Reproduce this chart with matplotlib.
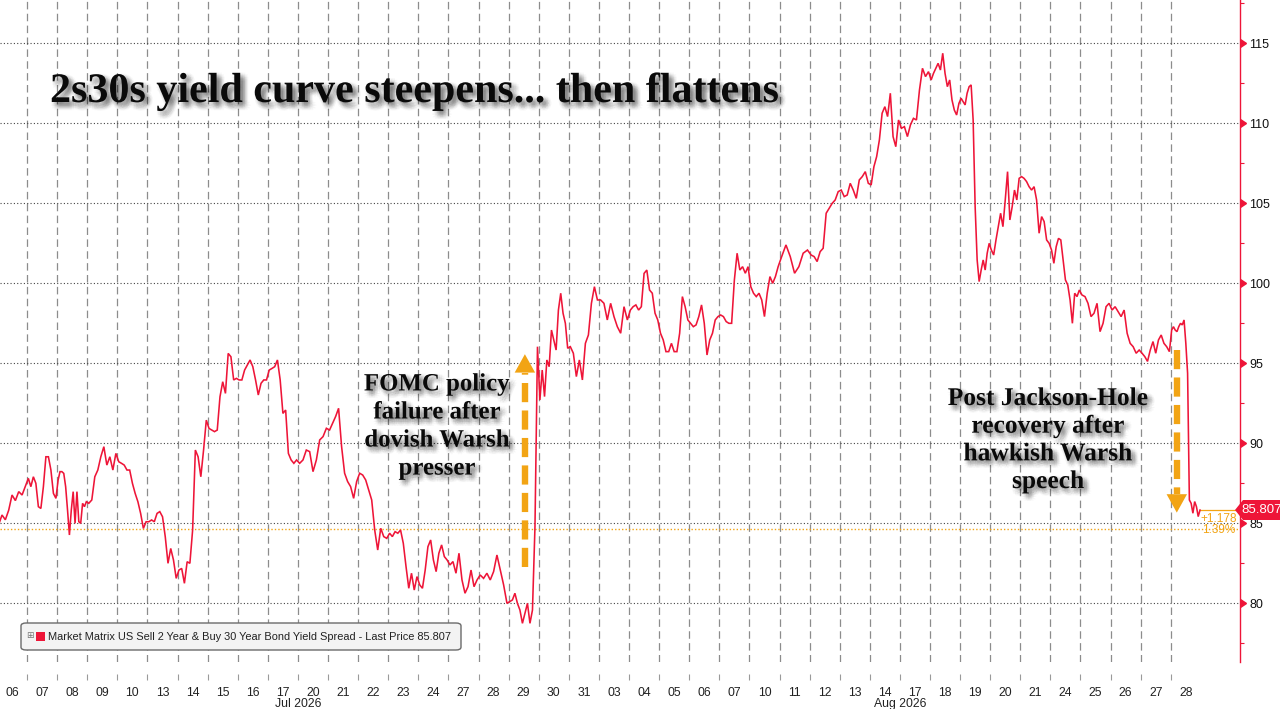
import numpy as np
import matplotlib
matplotlib.use('Agg')
import matplotlib.pyplot as plt
import matplotlib.patheffects as pe
from matplotlib.patches import Polygon, FancyBboxPatch, Rectangle

# ---------------- data ----------------
jul_days = ['06', '07', '08', '09', '10', '13', '14', '15', '16', '17',
            '20', '21', '22', '23', '24', '27', '28', '29', '30', '31']
aug_days = ['03', '04', '05', '06', '07', '10', '11', '12', '13', '14',
            '17', '18', '19', '20', '21', '24', '25', '26', '27', '28']
month_labels = ['Jul 2026', 'Aug 2026']

# intraday readings of the 2s30s spread (bp), one list per session
jul_sessions = [
    [84.9, 85.5, 85.2, 85.8, 86.75, 86.4, 86.96, 86.75, 87.3],
    [87.79, 87.27, 87.89, 87.48, 86.02, 85.91, 87.27, 89.14, 89.14, 88.31, 86.85, 86.54],
    [87.69, 88.21, 88.21, 88.1, 87.27, 85.81, 84.25, 85.81, 86.96, 84.98, 86.96, 85.08, 84.98, 86.23, 86.02, 86.33],
    [86.23, 86.44, 87.89, 88.31, 89.14, 89.77, 88.62, 89.14, 88.31, 89.35],
    [88.83, 88.73, 88.62, 88.31, 88.31, 87.48, 86.85, 86.33, 85.6, 84.66, 85.08],
    [85.08, 85.19, 85.08, 85.6, 85.71, 85.39, 84.14, 82.48, 83.41, 82.69, 81.54],
    [82.06, 82.16, 81.23, 82.58, 82.48, 84.56, 89.56, 89.14, 87.89, 89.56, 91.43],
    [90.91, 90.81, 90.71, 90.81, 92.89, 93.83, 93.1, 95.6, 95.39, 93.94, 94.04],
    [93.94, 93.94, 94.56, 94.87, 95.19, 94.77, 93.94, 93.0, 93.73, 93.94, 93.94],
    [94.56, 94.66, 94.77, 95.19, 93.94, 91.85, 92.06, 89.35, 88.94, 88.73, 88.94],
    [88.73, 88.94, 89.56, 89.46, 88.21, 88.94, 90.19, 90.4, 90.92],
    [90.81, 91.23, 91.65, 92.17, 89.77, 88.11, 87.59, 87.27, 86.54, 87.59],
    [88.11, 88.0, 87.69, 87.06, 86.44, 84.56, 83.31, 84.67, 84.15, 84.04],
    [84.36, 84.15, 84.46, 84.36, 84.56, 83.73, 82.27, 80.92, 81.86, 80.81, 81.65],
    [81.13, 80.92, 82.06, 83.52, 83.94, 82.69, 81.96, 83.11, 83.63, 82.9, 82.69],
    [82.38, 82.59, 81.86, 83.11, 81.44, 80.61, 81.02, 82.06, 81.02, 81.44],
    [81.75, 81.54, 81.86, 81.44, 81.96, 83.0, 82.06, 81.13, 79.98],
    [80.09, 80.19, 80.61, 79.98, 79.56, 78.73, 79.36, 79.98, 78.73, 79.56, 84.77, 96.02],
    [92.69, 94.56, 92.9, 95.19, 94.77, 97.06, 96.44, 95.81, 98.31, 99.36, 98.11, 97.48, 95.92],
    [96.02, 95.61, 94.15, 95.19, 93.94, 96.23, 96.75, 98.73, 99.77, 98.94],
]
aug_sessions = [
    [98.94, 98.73, 97.69, 98.73, 97.9, 97.27, 96.86, 98.52, 97.69],
    [98.31, 98.52, 98.63, 98.31, 98.52, 100.6, 100.81, 99.56, 99.36, 98.11, 97.69],
    [96.86, 96.44, 95.71, 95.71, 96.23, 95.71, 95.71, 96.86, 99.15, 98.52, 97.69],
    [97.48, 97.27, 97.38, 97.9, 98.63, 97.48, 95.5, 96.44, 96.86, 97.69, 97.9],
    [98.0, 97.9, 97.59, 97.48, 97.48, 100.19, 101.86, 100.81, 101.02, 100.61, 101.02],
    [99.77, 99.36, 99.15, 99.36, 98.94, 97.9, 99.36, 100.4, 99.98, 100.4, 101.02],
    [101.65, 102.38, 101.65, 100.61, 101.02, 101.86, 102.06],
    [101.75, 101.65, 101.34, 101.96, 102.17, 104.36, 104.67, 104.98, 105.19, 105.71],
    [105.81, 105.4, 105.5, 106.23, 105.81, 105.29, 106.44, 106.65, 106.96, 106.23],
    [106.13, 107.27, 107.9, 108.94, 110.61, 111.02, 110.4, 111.86, 109.15, 108.52, 110.19],
    [109.67, 109.77, 109.15, 109.88, 110.29, 110.19, 112.06, 113.42, 112.9, 113.21],
    [112.69, 113.1, 113.42, 113.73, 113.31, 114.36, 113.1, 112.27, 112.69, 111.44, 110.81, 110.5, 111.23],
    [111.54, 111.34, 111.13, 111.86, 112.27, 112.38, 110.19, 104.77, 101.44, 100.09, 100.81, 101.44, 100.81, 101.86, 102.48],
    [102.06, 101.75, 102.69, 103.52, 104.36, 103.52, 105.19, 106.96, 103.94, 104.77, 105.81, 105.19, 106.54],
    [106.65, 106.54, 106.34, 106.02, 105.81, 106.02, 105.19, 103.11, 104.15, 103.84, 102.69, 102.48],
    [102.06, 101.23, 102.27, 102.79, 102.69, 101.44, 100.19, 99.88, 98.94, 97.48, 99.36, 99.15, 99.56],
    [99.25, 99.15, 98.73, 97.9, 98.11, 98.73, 96.96, 97.48, 98.52, 98.73],
    [98.31, 98.52, 98.21, 97.9, 98.31, 96.86, 96.23, 96.02, 95.61, 95.81],
    [95.61, 95.4, 95.1, 95.81, 96.34, 95.61, 96.44, 96.75, 96.23, 96.02, 95.71],
    [97.06, 97.27, 97.06, 96.96, 97.27, 97.48, 97.38, 97.69, 96.23, 94.36, 86.44, 86.23,
     85.61, 86.34, 86.02, 85.4, 85.807],
]

last_price = 85.807
reference_level = 84.629
change_text = '+1.178'
pct_text = '1.39%'
y_ticks = [80, 85, 90, 95, 100, 105, 110, 115]
y_minor = [77.5, 82.5, 87.5, 92.5, 97.5, 102.5, 107.5, 112.5, 117.5]

title_text = '2s30s yield curve steepens... then flattens'
legend_text = 'Market Matrix US Sell 2 Year & Buy 30 Year Bond Yield Spread - Last Price 85.807'
note_fomc = 'FOMC policy\nfailure after\ndovish Warsh\npresser'
note_jh = 'Post Jackson-Hole\nrecovery after\nhawkish Warsh\nspeech'

# annotation arrows (day position, start value, tip value)
fomc_arrow = (17.04, 82.25, 95.55)
jh_arrow = (38.70, 95.81, 85.65)

# ---------------- style ----------------
RED = '#ee1538'
ORANGE = '#f2a414'
SANS = ['Liberation Sans', 'DejaVu Sans']
SERIF = ['Liberation Serif', 'DejaVu Serif']

W, H = 1280, 709
fig = plt.figure(figsize=(W / 100, H / 100), dpi=100)
fig.patch.set_facecolor('white')


def fx(x):
    return x / W


def fy(y):
    return 1 - y / H


AX_BOTTOM_PX = 662
AX_RIGHT_PX = 1240
ax = fig.add_axes([0, fy(AX_BOTTOM_PX), fx(AX_RIGHT_PX), AX_BOTTOM_PX / H])
ax.set_facecolor('white')

# pixel -> data scale: 16 px per bp, 115 at px 43
ax.set_ylim(115 - (AX_BOTTOM_PX - 43) / 16, 115 + 43 / 16)
ax.set_xlim(-0.4, 40.8)

# ---------------- series ----------------
sessions = jul_sessions + aug_sessions
xs, ys = [], []
for i, vals in enumerate(sessions):
    n = len(vals)
    for k, v in enumerate(vals):
        xs.append(i - 0.5 + (k + 0.5) / n)
        ys.append(v)
ax.plot(xs, ys, color=RED, lw=1.15, zorder=5, solid_joinstyle='miter')

# reference level
ax.axhline(reference_level, color=ORANGE, lw=1.0, ls=(0, (1, 1.5)), zorder=3)
# bracket to last price
ax.plot([xs[-1], ax.get_xlim()[1]], [last_price, last_price], color=ORANGE, lw=0.9,
        zorder=4, clip_on=False)

# ---------------- axes ----------------
n_days = len(sessions)
day_labels = jul_days + aug_days
centers = np.arange(n_days)
boundaries = np.arange(n_days - 1) + 0.5

ax.set_xticks(boundaries)
ax.set_xticklabels([])
ax.set_xticks(centers, minor=True)
ax.set_xticklabels(day_labels, minor=True, fontfamily=SANS)
ax.tick_params(axis='x', which='major', length=0)
ax.tick_params(axis='x', which='minor', length=0, pad=18, labelsize=8.8, labelcolor='#222222')
ax.grid(axis='x', which='major', ls=(0, (6, 3.5)), color='#8c8c8c', lw=0.9)

ax.vlines(boundaries, -0.018, -0.027, transform=ax.get_xaxis_transform(),
          colors='#9a9a9a', lw=0.8, clip_on=False)

# month labels under the middle of each month
jul_mid = (len(jul_days) - 1) / 2
aug_mid = len(jul_days) + (len(aug_days) - 1) / 2
for xm, lab in zip([jul_mid, aug_mid], month_labels):
    ax.annotate(lab, xy=(xm, 0), xycoords=('data', 'axes fraction'),
                xytext=(0, -42), textcoords='offset pixels', ha='center', va='center',
                fontsize=8.8, color='#222222', fontfamily=SANS, annotation_clip=False)

ax.yaxis.tick_right()
ax.set_yticks(y_ticks)
ax.set_yticklabels([str(t) for t in y_ticks], fontfamily=SANS)
ax.set_yticks(y_minor, minor=True)
ax.tick_params(axis='y', which='major', length=0, pad=6.5, labelsize=9, labelcolor='#111111')
ax.tick_params(axis='y', which='minor', length=3, width=0.8, color=RED, right=True, left=False)
ax.grid(axis='y', which='major', ls=(0, (1, 2)), color='#444444', lw=0.8)
ax.plot(np.ones(len(y_ticks)), y_ticks, transform=ax.get_yaxis_transform(), marker=9,
        ms=6, color=RED, ls='none', clip_on=False, zorder=6)

for side in ['left', 'top', 'bottom']:
    ax.spines[side].set_visible(False)
ax.spines['right'].set_color(RED)
ax.spines['right'].set_linewidth(1.0)
ax.set_axisbelow(True)

# ---------------- annotation arrows ----------------
def dashed_arrow(x, y0, y1):
    head_h = 1.15 * np.sign(y1 - y0)
    half_w = 0.34
    base = y1 - head_h
    ax.plot([x, x], [y0, base], color=ORANGE, lw=4.6, ls=(0, (3.0, 1.3)),
            solid_capstyle='butt', dash_capstyle='butt', zorder=7)
    ax.add_patch(Polygon([[x - half_w, base], [x + half_w, base], [x, y1]],
                         closed=True, fc=ORANGE, ec='none', zorder=7))


dashed_arrow(*fomc_arrow)
dashed_arrow(*jh_arrow)

# ---------------- texts ----------------
def shadow(spread=3.0, off=(2.5, -2.5), alpha=0.025):
    eff = []
    for r in (0.35 * spread, 0.7 * spread, spread):
        for k in range(10):
            a = 2 * np.pi * k / 10
            eff.append(pe.SimplePatchShadow(offset=(off[0] + r * np.cos(a), off[1] + r * np.sin(a)),
                                            shadow_rgbFace='#000000', alpha=alpha))
    eff.append(pe.Normal())
    return eff


renderer = fig.canvas.get_renderer()


def fit_width(t, target_px):
    w = t.get_window_extent(renderer).width
    t.set_fontsize(t.get_fontsize() * target_px / w)


title = fig.text(fx(50), fy(92), title_text, ha='left', va='center', fontsize=28,
                 fontweight='bold', fontfamily=SERIF, color='#0a0a0a')
fit_width(title, 730)
title.set_path_effects(shadow(spread=3.2, off=(2.8, -2.8), alpha=0.022))

t1 = fig.text(fx(437), fy(426), note_fomc, ha='center', va='center', fontsize=18,
              fontweight='bold', fontfamily=SERIF, color='#0a0a0a', linespacing=1.28,
              multialignment='center')
fit_width(t1, 146)
t1.set_path_effects(shadow())

t2 = fig.text(fx(1048), fy(440), note_jh, ha='center', va='center', fontsize=18,
              fontweight='bold', fontfamily=SERIF, color='#0a0a0a', linespacing=1.26,
              multialignment='center')
fit_width(t2, 200)
t2.set_path_effects(shadow())

# ---------------- legend box ----------------
fig.patches.append(FancyBboxPatch((fx(21), fy(650)), fx(440), (650 - 623) / H,
                                  boxstyle='round,pad=0,rounding_size=0.004',
                                  transform=fig.transFigure, fc='#f3f3f3', ec='#6a6a6a',
                                  lw=1.0, zorder=10))
fig.text(fx(30), fy(636), '\u229e', ha='center', va='center', fontsize=6.5,
         color='#777777', fontfamily=['DejaVu Sans'], zorder=11)
fig.patches.append(Rectangle((fx(36), fy(641)), fx(9), 9 / H, transform=fig.transFigure,
                             fc=RED, ec='none', zorder=11))
lg = fig.text(fx(48), fy(636.5), legend_text, ha='left', va='center', fontsize=8,
              color='#222222', fontfamily=SANS, zorder=11)
fit_width(lg, 407)

# ---------------- last price tag ----------------
tag_y = 510
fig.patches.append(Polygon([[fx(1235), fy(tag_y)], [fx(1243), fy(tag_y - 10)],
                            [fx(1280), fy(tag_y - 10)], [fx(1280), fy(tag_y + 10)],
                            [fx(1243), fy(tag_y + 10)]], closed=True,
                           transform=fig.transFigure, fc=RED, ec='none', zorder=12))
fig.text(fx(1262), fy(tag_y), f'{last_price:.3f}', ha='center', va='center', fontsize=9.5,
         color='white', fontfamily=SANS, zorder=13)
fig.text(fx(1237), fy(519), change_text, ha='right', va='center', fontsize=8.5,
         color=ORANGE, fontfamily=SANS, zorder=13)
fig.text(fx(1235), fy(530), pct_text, ha='right', va='center', fontsize=8.5,
         color=ORANGE, fontfamily=SANS, zorder=13)

fig.savefig('out.png', dpi=100, facecolor='white')
